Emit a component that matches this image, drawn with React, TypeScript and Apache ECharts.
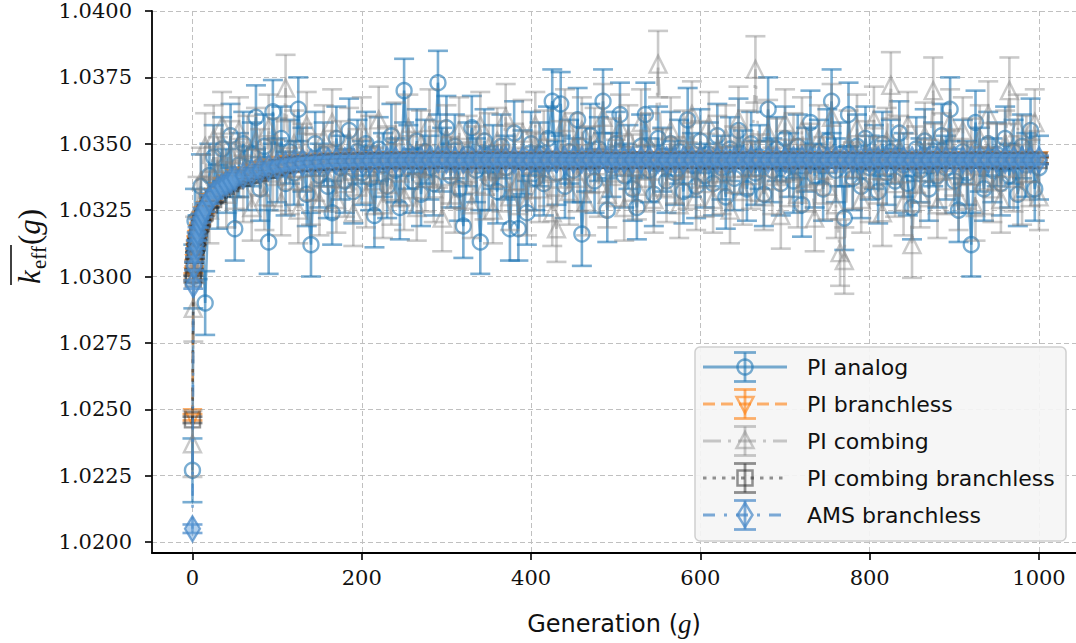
import React, { useEffect, useRef } from "react";
import * as echarts from "echarts";

// ---------------- data ----------------
const noisyGens = [
  0, 1, 3, 6,
  10, 15, 20, 25, 30, 35, 40, 45, 50, 55,
  60, 65, 70, 75, 80, 85, 90, 95, 100, 105,
  110, 115, 120, 125, 130, 135, 140, 145, 150, 155,
  160, 165, 170, 175, 180, 185, 190, 195, 200, 205,
  210, 215, 220, 225, 230, 235, 240, 245, 250, 255,
  260, 265, 270, 275, 280, 285, 290, 295, 300, 305,
  310, 315, 320, 325, 330, 335, 340, 345, 350, 355,
  360, 365, 370, 375, 380, 385, 390, 395, 400, 405,
  410, 415, 420, 425, 430, 435, 440, 445, 450, 455,
  460, 465, 470, 475, 480, 485, 490, 495, 500, 505,
  510, 515, 520, 525, 530, 535, 540, 545, 550, 555,
  560, 565, 570, 575, 580, 585, 590, 595, 600, 605,
  610, 615, 620, 625, 630, 635, 640, 645, 650, 655,
  660, 665, 670, 675, 680, 685, 690, 695, 700, 705,
  710, 715, 720, 725, 730, 735, 740, 745, 750, 755,
  760, 765, 770, 775, 780, 785, 790, 795, 800, 805,
  810, 815, 820, 825, 830, 835, 840, 845, 850, 855,
  860, 865, 870, 875, 880, 885, 890, 895, 900, 905,
  910, 915, 920, 925, 930, 935, 940, 945, 950, 955,
  960, 965, 970, 975, 980, 985, 990, 995, 1000,
];

const analogK = [
  1.0227, 1.03, 1.0321, 1.0311,
  1.0334, 1.029, 1.0338, 1.0345, 1.033, 1.0348, 1.0336, 1.0353, 1.0318, 1.0342,
  1.035, 1.0337, 1.0346, 1.036, 1.0333, 1.0349, 1.0313, 1.0362, 1.034, 1.0352,
  1.0335, 1.0347, 1.0339, 1.0363, 1.0344, 1.0331, 1.0312, 1.035, 1.0338, 1.0346,
  1.0334, 1.0324, 1.0352, 1.0341, 1.0336, 1.0355, 1.0332, 1.0347, 1.0339, 1.035,
  1.0337, 1.0323, 1.0348, 1.0342, 1.0334, 1.0353, 1.034, 1.0326, 1.037, 1.0345,
  1.0336, 1.0351, 1.0331, 1.0347, 1.0341, 1.0335, 1.0373, 1.0344, 1.0356, 1.0338,
  1.0349, 1.0333, 1.0319, 1.0346, 1.0356, 1.034, 1.0313, 1.0351, 1.0337, 1.0345,
  1.0332, 1.0349, 1.0341, 1.0318, 1.0354, 1.0318, 1.0343, 1.0324, 1.035, 1.0337,
  1.0346, 1.0335, 1.0352, 1.0366, 1.0339, 1.0365, 1.0334, 1.0347, 1.034, 1.0359,
  1.0316, 1.0344, 1.0353, 1.0336, 1.0348, 1.0366, 1.0325, 1.0342, 1.035, 1.0361,
  1.0338, 1.0345, 1.0333, 1.0326, 1.0349, 1.0361, 1.034, 1.0331, 1.0352, 1.0344,
  1.0336, 1.035, 1.0339, 1.0347, 1.0332, 1.0359, 1.0342, 1.0334, 1.0351, 1.0338,
  1.0346, 1.0335, 1.0353, 1.0341, 1.033, 1.0348, 1.0337, 1.0355, 1.0343, 1.0333,
  1.035, 1.0339, 1.0345, 1.0331, 1.0363, 1.034, 1.0348, 1.0335, 1.0352, 1.0342,
  1.0336, 1.0349, 1.0327, 1.0344, 1.0358, 1.0338, 1.0347, 1.0333, 1.0351, 1.0366,
  1.034, 1.0346, 1.0322, 1.0361, 1.0337, 1.0349, 1.0334, 1.0352, 1.0341, 1.0345,
  1.0332, 1.035, 1.0339, 1.0347, 1.0336, 1.0354, 1.0342, 1.0335, 1.0326, 1.0348,
  1.034, 1.0351, 1.0333, 1.0346, 1.0338, 1.0353, 1.0341, 1.0363, 1.0336, 1.0325,
  1.0347, 1.0339, 1.0312, 1.0358, 1.0344, 1.0333, 1.035, 1.034, 1.0346, 1.0335,
  1.0352, 1.0338, 1.0347, 1.0331, 1.0349, 1.0342, 1.0355, 1.0333, 1.0341,
];
const analogErr = 0.0012;

const combingK = [
  1.0237, 1.0288, 1.031, 1.0325,
  1.0336, 1.0349, 1.0325, 1.0352, 1.034, 1.0357, 1.0331, 1.0346, 1.0338, 1.0355,
  1.0333, 1.0348, 1.0326, 1.0351, 1.0343, 1.033, 1.0356, 1.0339, 1.0347, 1.0328,
  1.0371, 1.0336, 1.035, 1.0325, 1.0345, 1.0357, 1.0332, 1.0341, 1.0328, 1.0352,
  1.0337, 1.0358, 1.0329, 1.0346, 1.0335, 1.0351, 1.0324, 1.0343, 1.0355, 1.0331,
  1.0348, 1.0336, 1.0359, 1.0327, 1.0344, 1.0332, 1.0353, 1.0339, 1.033, 1.0356,
  1.0342, 1.0326, 1.035, 1.0337, 1.0358, 1.0333, 1.0346, 1.0322, 1.0352, 1.034,
  1.0329, 1.0355, 1.0338, 1.0348, 1.0327, 1.0344, 1.0357, 1.0334, 1.0349, 1.0325,
  1.0351, 1.0337, 1.036, 1.033, 1.0345, 1.0336, 1.0354, 1.0328, 1.0342, 1.0357,
  1.0333, 1.035, 1.0339, 1.0324, 1.0318, 1.0346, 1.0358, 1.0332, 1.0349, 1.0337,
  1.0355, 1.0328, 1.0344, 1.0351, 1.0335, 1.036, 1.0331, 1.0347, 1.0339, 1.0356,
  1.0326, 1.0352, 1.0341, 1.0334, 1.0358, 1.0337, 1.0349, 1.0329, 1.038, 1.0343,
  1.0333, 1.0355, 1.034, 1.0327, 1.035, 1.0338, 1.0361, 1.033, 1.0346, 1.0335,
  1.0357, 1.0329, 1.0348, 1.0336, 1.0352, 1.0325, 1.0344, 1.0359, 1.0332, 1.035,
  1.0338, 1.0378, 1.0341, 1.033, 1.0354, 1.0336, 1.0347, 1.0323, 1.0358, 1.0339,
  1.0349, 1.0331, 1.0355, 1.0337, 1.0345, 1.0322, 1.0352, 1.034, 1.0334, 1.036,
  1.0327, 1.0309, 1.0306, 1.035, 1.0338, 1.0356, 1.0329, 1.0346, 1.0333, 1.0359,
  1.034, 1.0324, 1.0351, 1.0372, 1.0335, 1.0348, 1.0328, 1.0357, 1.0312, 1.0344,
  1.0331, 1.0353, 1.0339, 1.037, 1.0327, 1.0349, 1.0336, 1.0358, 1.0343, 1.033,
  1.0355, 1.0338, 1.0347, 1.0326, 1.0352, 1.0336, 1.0361, 1.0333, 1.0345, 1.0329,
  1.035, 1.037, 1.0337, 1.0356, 1.0332, 1.0348, 1.0339, 1.0358, 1.033,
];
const combingErr = 0.00125;

const smoothGens = [
  0, 1, 2, 3, 4, 5, 6, 8, 10, 12, 15, 20, 25, 30, 35, 40, 45, 50,
  60, 70, 80, 90, 100, 110, 120, 130, 140, 150,
  160, 170, 180, 190, 200, 210, 220, 230, 240, 250,
  260, 270, 280, 290, 300, 310, 320, 330, 340, 350,
  360, 370, 380, 390, 400, 410, 420, 430, 440, 450,
  460, 470, 480, 490, 500, 510, 520, 530, 540, 550,
  560, 570, 580, 590, 600, 610, 620, 630, 640, 650,
  660, 670, 680, 690, 700, 710, 720, 730, 740, 750,
  760, 770, 780, 790, 800, 810, 820, 830, 840, 850,
  860, 870, 880, 890, 900, 910, 920, 930, 940, 950,
  960, 970, 980, 990, 1000,
];

const branchlessK = [
  1.0247, 1.03, 1.0305, 1.0309, 1.0312, 1.0314, 1.0316, 1.0319, 1.0321, 1.0323, 1.0325, 1.0328, 1.033, 1.0332, 1.0334, 1.0335, 1.0336, 1.0337,
  1.0338, 1.0339, 1.034, 1.0341, 1.0342, 1.03423, 1.03426, 1.03428, 1.0343, 1.03432,
  1.03433, 1.03434, 1.03435, 1.03436, 1.03436, 1.03437, 1.03437, 1.03437, 1.03438, 1.03438,
  1.03438, 1.03437, 1.03438, 1.03439, 1.03438, 1.03438, 1.03437, 1.03438, 1.03439, 1.03438,
  1.03438, 1.03439, 1.03438, 1.03438, 1.03437, 1.03438, 1.03438, 1.03439, 1.03438, 1.03438,
  1.03438, 1.03438, 1.03439, 1.03438, 1.03437, 1.03438, 1.03438, 1.03438, 1.03439, 1.03438,
  1.03438, 1.03437, 1.03438, 1.03438, 1.03439, 1.03438, 1.03438, 1.03437, 1.03438, 1.03438,
  1.03439, 1.03438, 1.03438, 1.03438, 1.03437, 1.03438, 1.03439, 1.03438, 1.03438, 1.03438,
  1.03438, 1.03439, 1.03438, 1.03437, 1.03438, 1.03438, 1.03438, 1.03439, 1.03438, 1.03438,
  1.03437, 1.03438, 1.03438, 1.03439, 1.03438, 1.03438, 1.03438, 1.03437, 1.03438, 1.03439,
  1.03438, 1.03438, 1.03438, 1.03437, 1.03438,
];
const branchlessErr = 0.00012;

const combBranchlessK = [
  1.0246, 1.0299, 1.0304, 1.0308, 1.0311, 1.0313, 1.0315, 1.0318, 1.032, 1.0322, 1.0324, 1.0327, 1.0329, 1.0331, 1.0333, 1.0334, 1.0335, 1.0336,
  1.0337, 1.0338, 1.0339, 1.034, 1.0341, 1.03418, 1.03422, 1.03425, 1.03428, 1.0343,
  1.03432, 1.03433, 1.03434, 1.03435, 1.03435, 1.03436, 1.03436, 1.03437, 1.03437, 1.03437,
  1.03437, 1.03436, 1.03437, 1.03438, 1.03437, 1.03437, 1.03436, 1.03437, 1.03438, 1.03437,
  1.03437, 1.03438, 1.03437, 1.03436, 1.03437, 1.03437, 1.03438, 1.03437, 1.03437, 1.03436,
  1.03437, 1.03437, 1.03438, 1.03437, 1.03436, 1.03437, 1.03437, 1.03438, 1.03437, 1.03437,
  1.03436, 1.03437, 1.03437, 1.03438, 1.03437, 1.03437, 1.03436, 1.03437, 1.03437, 1.03438,
  1.03437, 1.03437, 1.03436, 1.03437, 1.03438, 1.03437, 1.03437, 1.03437, 1.03436, 1.03437,
  1.03438, 1.03437, 1.03437, 1.03436, 1.03437, 1.03437, 1.03438, 1.03437, 1.03437, 1.03436,
  1.03437, 1.03437, 1.03438, 1.03437, 1.03436, 1.03437, 1.03437, 1.03438, 1.03437, 1.03437,
  1.03436, 1.03437, 1.03437, 1.03438, 1.03437,
];
const combBranchlessErr = 0.00012;

const amsK = [
  1.0205, 1.0297, 1.0304, 1.0309, 1.0312, 1.0315, 1.0317, 1.032, 1.0322, 1.0324, 1.0326, 1.0329, 1.0331, 1.0333, 1.0334, 1.0335, 1.0336, 1.0337,
  1.0338, 1.0339, 1.034, 1.0341, 1.03415, 1.0342, 1.03425, 1.03428, 1.0343, 1.03432,
  1.03434, 1.03435, 1.03436, 1.03436, 1.03437, 1.03437, 1.03438, 1.03438, 1.03438, 1.03439,
  1.03439, 1.03438, 1.03439, 1.0344, 1.03439, 1.03439, 1.03438, 1.03439, 1.0344, 1.03439,
  1.03439, 1.0344, 1.03439, 1.03439, 1.03438, 1.03439, 1.03439, 1.0344, 1.03439, 1.03439,
  1.03439, 1.03439, 1.0344, 1.03439, 1.03438, 1.03439, 1.03439, 1.03439, 1.0344, 1.03439,
  1.03439, 1.03438, 1.03439, 1.03439, 1.0344, 1.03439, 1.03439, 1.03438, 1.03439, 1.03439,
  1.0344, 1.03439, 1.03439, 1.03439, 1.03438, 1.03439, 1.0344, 1.03439, 1.03439, 1.03439,
  1.03439, 1.0344, 1.03439, 1.03438, 1.03439, 1.03439, 1.03439, 1.0344, 1.03439, 1.03439,
  1.03438, 1.03439, 1.03439, 1.0344, 1.03439, 1.03439, 1.03439, 1.03438, 1.03439, 1.0344,
  1.03439, 1.03439, 1.03439, 1.03438, 1.03439,
];
const amsErr = 0.00016;

const xTicks = [0, 200, 400, 600, 800, 1000];
const xTickLabels = ["0", "200", "400", "600", "800", "1000"];
const yTicks = [1.02, 1.0225, 1.025, 1.0275, 1.03, 1.0325, 1.035, 1.0375, 1.04];
const yTickLabels = ["1.0200", "1.0225", "1.0250", "1.0275", "1.0300", "1.0325", "1.0350", "1.0375", "1.0400"];

const seriesNames = ["PI analog", "PI branchless", "PI combing", "PI combing branchless", "AMS branchless"];

// ---------------- styles ----------------
const SERIF = "'DejaVu Serif', 'Liberation Serif', serif";
const MATH = "'Liberation Serif', 'DejaVu Serif', serif";
const SANS = "'DejaVu Sans', 'Noto Sans', sans-serif";

type Meta = {
  color: string;
  fill: string;
  dash: any;
  legendDash: number[] | null;
  symbol: string;
  symbolSize: number | number[];
  rotate: number;
  marker: string;
  z: number;
};

const metas: Meta[] = [
  { color: "rgba(31,119,180,0.6)", fill: "rgba(0,0,0,0)", dash: "solid", legendDash: null, symbol: "circle", symbolSize: 15, rotate: 0, marker: "circle", z: 2 },
  { color: "rgba(255,127,14,0.6)", fill: "rgba(0,0,0,0)", dash: [12, 6], legendDash: [12, 6], symbol: "triangle", symbolSize: 16, rotate: 180, marker: "tdown", z: 3 },
  { color: "rgba(128,128,128,0.42)", fill: "rgba(0,0,0,0)", dash: [18, 7, 3, 7], legendDash: [18, 7, 3, 7], symbol: "triangle", symbolSize: 17, rotate: 0, marker: "tup", z: 4 },
  { color: "rgba(40,40,40,0.5)", fill: "rgba(0,0,0,0)", dash: [3.5, 6], legendDash: [3.5, 6], symbol: "rect", symbolSize: 15, rotate: 0, marker: "square", z: 5 },
  { color: "rgba(70,135,200,0.7)", fill: "rgba(100,160,218,0.5)", dash: [12, 9, 3, 9], legendDash: [12, 9, 3, 9], symbol: "diamond", symbolSize: [15, 25], rotate: 0, marker: "diamond", z: 6 },
];

const legendFill = ["none", "none", "none", "none", "none"];

const seriesData: { gens: number[]; vals: number[]; err: number }[] = [
  { gens: noisyGens, vals: analogK, err: analogErr },
  { gens: smoothGens, vals: branchlessK, err: branchlessErr },
  { gens: noisyGens, vals: combingK, err: combingErr },
  { gens: smoothGens, vals: combBranchlessK, err: combBranchlessErr },
  { gens: smoothGens, vals: amsK, err: amsErr },
];

function errorBarSeries(i: number) {
  const d = seriesData[i];
  const m = metas[i];
  const capHalf = 10;
  const lw = 2.6;
  return {
    type: "custom",
    name: seriesNames[i] + " err",
    z: m.z,
    silent: true,
    clip: false,
    data: d.gens.map((g, k) => [g, d.vals[k] - d.err, d.vals[k] + d.err]),
    encode: { x: 0, y: [1, 2] },
    renderItem: (_p: any, api: any) => {
      const lo = api.coord([api.value(0), api.value(1)]);
      const hi = api.coord([api.value(0), api.value(2)]);
      const st = { stroke: m.color, lineWidth: lw, fill: "none" };
      return {
        type: "group",
        children: [
          { type: "line", shape: { x1: lo[0], y1: lo[1], x2: hi[0], y2: hi[1] }, style: st },
          { type: "line", shape: { x1: lo[0] - capHalf, y1: lo[1], x2: lo[0] + capHalf, y2: lo[1] }, style: st },
          { type: "line", shape: { x1: hi[0] - capHalf, y1: hi[1], x2: hi[0] + capHalf, y2: hi[1] }, style: st },
        ],
      };
    },
  };
}

function lineSeries(i: number) {
  const d = seriesData[i];
  const m = metas[i];
  return {
    type: "line",
    name: seriesNames[i],
    z: m.z,
    silent: true,
    data: d.gens.map((g, k) => [g, d.vals[k]]),
    symbol: m.symbol,
    symbolSize: m.symbolSize,
    symbolRotate: m.rotate,
    showSymbol: true,
    showAllSymbol: true,
    itemStyle: { color: m.fill, borderColor: m.color, borderWidth: 2.4 },
    lineStyle: { color: m.color, width: 2.6, type: m.dash },
    emphasis: { disabled: true },
  };
}

function legendMarker(kind: string, cx: number, cy: number, color: string, fill: string) {
  const st = { stroke: color, lineWidth: 2.5, fill };
  if (kind === "circle") return { type: "circle", shape: { cx, cy, r: 7.5 }, style: st };
  if (kind === "tdown") return { type: "polygon", shape: { points: [[cx - 8.5, cy - 7], [cx + 8.5, cy - 7], [cx, cy + 9]] }, style: st };
  if (kind === "tup") return { type: "polygon", shape: { points: [[cx - 8.5, cy + 7], [cx + 8.5, cy + 7], [cx, cy - 9]] }, style: st };
  if (kind === "square") return { type: "rect", shape: { x: cx - 7.5, y: cy - 7.5, width: 15, height: 15 }, style: st };
  return { type: "polygon", shape: { points: [[cx, cy - 12], [cx + 7.5, cy], [cx, cy + 12], [cx - 7.5, cy]] }, style: st };
}

function buildLegend() {
  const children: any[] = [
    {
      type: "rect",
      shape: { x: 695, y: 347, width: 371, height: 194, r: 5 },
      style: { fill: "rgba(245,245,245,0.92)", stroke: "#cfcfcf", lineWidth: 1.5 },
      z: 50,
    },
  ];
  seriesNames.forEach((name, i) => {
    const m = metas[i];
    const cy = 367 + i * 37;
    const cx = 745;
    children.push({
      type: "line",
      shape: { x1: 703, y1: cy, x2: 787, y2: cy },
      style: { stroke: m.color, lineWidth: 2.8, lineDash: m.legendDash || undefined },
      z: 51,
    });
    const bs = { stroke: m.color, lineWidth: 2.8 };
    children.push({ type: "line", shape: { x1: cx, y1: cy - 14.5, x2: cx, y2: cy + 14.5 }, style: bs, z: 52 });
    children.push({ type: "line", shape: { x1: cx - 11, y1: cy - 14.5, x2: cx + 11, y2: cy - 14.5 }, style: bs, z: 52 });
    children.push({ type: "line", shape: { x1: cx - 11, y1: cy + 14.5, x2: cx + 11, y2: cy + 14.5 }, style: bs, z: 52 });
    children.push({ ...legendMarker(m.marker, cx, cy, m.color, legendFill[i]), z: 53 });
    children.push({
      type: "text",
      x: 807,
      y: cy,
      style: { text: name, fontFamily: SANS, fontSize: 22, fill: "#111", align: "left", verticalAlign: "middle" },
      z: 54,
    });
  });
  return children;
}

function buildTitles() {
  return [
    {
      type: "text",
      x: 614,
      y: 624,
      style: {
        text: "{s|Generation (}{i|g}{s|)}",
        align: "center",
        verticalAlign: "middle",
        rich: {
          s: { fontFamily: SANS, fontSize: 24, fill: "#111" },
          i: { fontFamily: MATH, fontStyle: "italic", fontSize: 27, fill: "#111" },
        },
      },
    },
    {
      type: "text",
      x: 29.8,
      y: 284,
      rotation: Math.PI / 2,
      style: { text: "k", fontFamily: MATH, fontStyle: "italic", fontSize: 31, fill: "#111", align: "left", verticalAlign: "middle" },
    },
    {
      type: "text",
      x: 38.9,
      y: 269,
      rotation: Math.PI / 2,
      style: { text: "eff", fontFamily: MATH, fontSize: 21, fill: "#111", align: "left", verticalAlign: "middle" },
    },
    {
      type: "text",
      x: 29.8,
      y: 245,
      rotation: Math.PI / 2,
      style: {
        text: "{p|(}{g|g}{p|)}",
        align: "left",
        verticalAlign: "middle",
        rich: {
          p: { fontFamily: MATH, fontSize: 31, fill: "#111" },
          g: { fontFamily: MATH, fontStyle: "italic", fontSize: 31, fill: "#111" },
        },
      },
    },
    {
      type: "line",
      shape: { x1: 11, y1: 245, x2: 11, y2: 285 },
      style: { stroke: "#111", lineWidth: 1.6 },
    },
  ];
}

function findLabel(v: number, ticks: number[], labels: string[]) {
  const k = ticks.findIndex((t) => Math.abs(t - v) < 1e-7);
  return k >= 0 ? labels[k] : "";
}

export default function App() {
  const ref = useRef<HTMLDivElement>(null);
  useEffect(() => {
    if (!ref.current) return;
    const chart = echarts.init(ref.current, null, { renderer: "svg" });
    const series: any[] = [];
    for (let i = 0; i < seriesNames.length; i++) {
      series.push(errorBarSeries(i));
      series.push(lineSeries(i));
    }
    const option: any = {
      animation: false,
      backgroundColor: "#ffffff",
      grid: { left: 152, right: 0, top: 11, bottom: 90, containLabel: false, outerBoundsMode: "none" },
      xAxis: {
        type: "value",
        min: -47.8,
        max: 1043.7,
        minInterval: 200,
        maxInterval: 200,
        axisLine: { show: true, onZero: false, lineStyle: { color: "#000", width: 1.8 } },
        axisTick: { show: true, length: 7, inside: false, customValues: xTicks, lineStyle: { color: "#000", width: 1.6 } },
        axisLabel: {
          customValues: xTicks,
          margin: 14,
          fontFamily: SERIF,
          fontSize: 21,
          color: "#111",
          formatter: (v: number) => findLabel(v, xTicks, xTickLabels),
        },
        splitLine: { show: true, lineStyle: { color: "#c0c0c0", width: 1, type: [5, 3] } },
      },
      yAxis: {
        type: "value",
        min: 1.019586,
        max: 1.04,
        minInterval: 0.0025,
        maxInterval: 0.0025,
        axisLine: { show: true, onZero: false, lineStyle: { color: "#000", width: 1.8 } },
        axisTick: { show: true, length: 7, inside: false, customValues: yTicks, lineStyle: { color: "#000", width: 1.6 } },
        axisLabel: {
          customValues: yTicks,
          margin: 20,
          fontFamily: SERIF,
          fontSize: 21,
          lineHeight: 16,
          color: "#111",
          formatter: (v: number) => findLabel(v, yTicks, yTickLabels),
        },
        splitLine: { show: true, lineStyle: { color: "#c0c0c0", width: 1, type: [5, 3] } },
      },
      series,
      graphic: [...buildTitles(), ...buildLegend()],
    };
    chart.setOption(option);
    return () => chart.dispose();
  }, []);
  return (
    <div
      ref={ref}
      style={{ position: "fixed", left: 0, top: 0, width: 1076, height: 643, background: "#fff" }}
    />
  );
}
